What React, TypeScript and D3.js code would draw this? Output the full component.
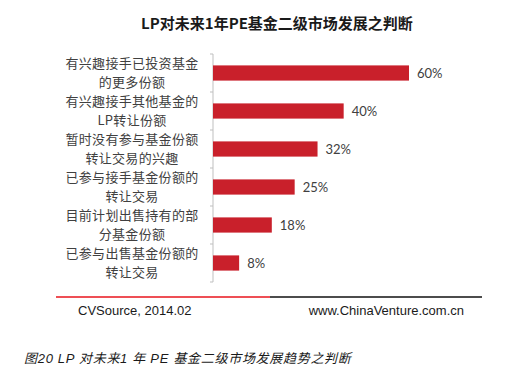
import * as d3 from "d3";

const categories = [
  ["有兴趣接手已投资基金", "的更多份额"],
  ["有兴趣接手其他基金的", "LP转让份额"],
  ["暂时没有参与基金份额", "转让交易的兴趣"],
  ["已参与接手基金份额的", "转让交易"],
  ["目前计划出售持有的部", "分基金份额"],
  ["已参与出售基金份额的", "转让交易"],
];
const values = [0.6, 0.4, 0.32, 0.25, 0.18, 0.08];
const valueLabels = ["60%", "40%", "32%", "25%", "18%", "8%"];

const title = "LP对未来1年PE基金二级市场发展之判断";
const sourceText = "CVSource, 2014.02";
const siteText = "www.ChinaVenture.com.cn";
const caption = "图20 LP 对未来1 年 PE 基金二级市场发展趋势之判断";

const width = 525;
const height = 392;
const axisX = 213;
const cjk = '"Noto Sans CJK SC", "Noto Sans", sans-serif';
const latin = 'Lato, "Noto Sans CJK SC", sans-serif';

export default function App() {
  const keys = categories.map((c) => c.join(""));

  const xScale = d3.scaleLinear().domain([0, 0.6]).range([0, 196]);
  const yScale = d3
    .scaleBand()
    .domain(keys)
    .range([54, 282])
    .paddingInner(0.6)
    .paddingOuter(0.3);

  const step = yScale.step();
  const tickYs = d3.range(keys.length + 1).map((i) => 54 + i * step);

  return (
    <div style={{ position: "fixed", left: 0, top: 0, background: "#fff" }}>
      <svg width={width} height={height}>
        <rect width={width} height={height} fill="#fff" />

        {/* titre */}
        <text
          x={277}
          y={24}
          dy="0.35em"
          textAnchor="middle"
          fontFamily={cjk}
          fontWeight="bold"
          fontSize={15}
          fill="#1a1a1a"
        >
          {title}
        </text>

        {/* axe */}
        <line x1={axisX} x2={axisX} y1={54} y2={282} stroke="#bfbfbf" />
        {tickYs.map((y) => (
          <line
            key={y}
            x1={axisX - 3}
            x2={axisX}
            y1={y}
            y2={y}
            stroke="#bfbfbf"
          />
        ))}

        {categories.map((lines, i) => {
          const key = keys[i];
          const y0 = yScale(key) || 0;
          const bh = yScale.bandwidth();
          const cy = y0 + bh / 2;
          const w = xScale(values[i]);
          return (
            <g key={key}>
              <text
                x={132}
                textAnchor="middle"
                fontFamily={cjk}
                fontSize={13}
                letterSpacing={0.3}
                fill="#404040"
              >
                <tspan x={132} y={cy - 9.5} dy="0.35em">
                  {lines[0]}
                </tspan>
                <tspan x={132} y={cy + 9.5} dy="0.35em">
                  {lines[1]}
                </tspan>
              </text>
              <rect
                x={axisX}
                y={y0}
                width={w}
                height={bh}
                fill="#c9202b"
              />
              <text
                x={axisX + w + 8}
                y={cy}
                dy="0.35em"
                fontFamily={latin}
                fontSize={13}
                fill="#404040"
              >
                {valueLabels[i]}
              </text>
            </g>
          );
        })}

        {/* pied */}
        <line x1={56} x2={270} y1={297} y2={297} stroke="#e8141c" strokeWidth={1.5} />
        <line x1={270} x2={482} y1={297} y2={297} stroke="#111" strokeWidth={1.5} />
        <text
          x={78}
          y={310}
          dy="0.35em"
          fontFamily='"Liberation Sans", Arial, sans-serif'
          fontSize={13}
          fill="#1a1a1a"
        >
          {sourceText}
        </text>
        <text
          x={464}
          y={310}
          dy="0.35em"
          textAnchor="end"
          fontFamily='"Liberation Sans", Arial, sans-serif'
          fontSize={13}
          fill="#1a1a1a"
        >
          {siteText}
        </text>

        <text
          x={24}
          y={358}
          dy="0.35em"
          fontFamily='"Liberation Sans", "Noto Sans CJK SC", sans-serif'
          fontStyle="italic"
          fontSize={13}
          letterSpacing={0.7}
          fill="#1a1a1a"
        >
          {caption}
        </text>
      </svg>
    </div>
  );
}
